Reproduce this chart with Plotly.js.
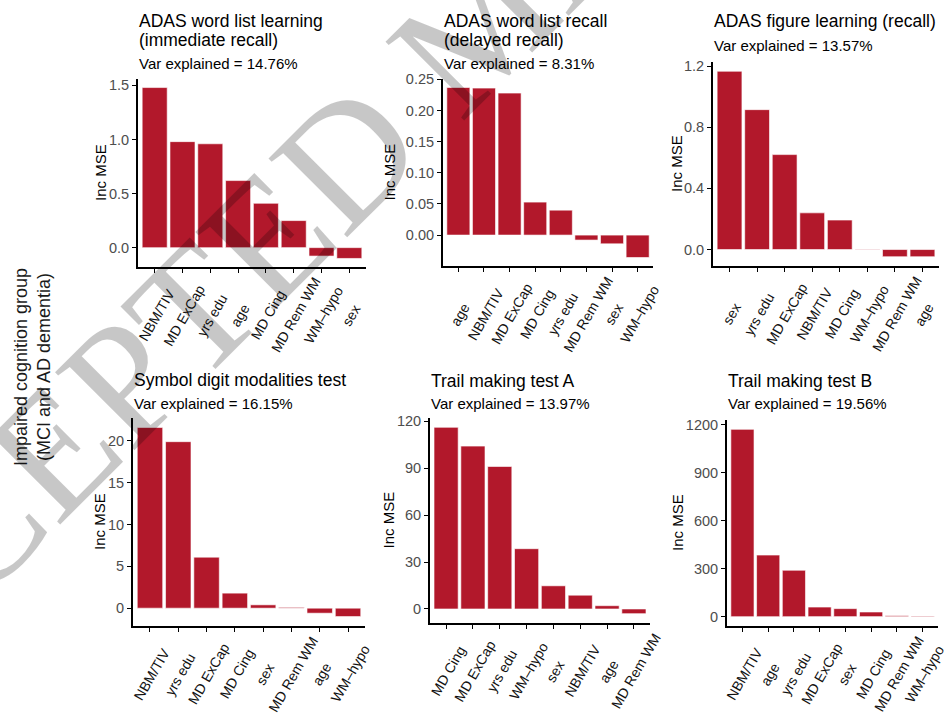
<!DOCTYPE html>
<html>
<head>
<meta charset="utf-8">
<script src="https://cdn.plot.ly/plotly-3.0.1.min.js"></script>
<style>
  html, body { margin: 0; padding: 0; background: #ffffff; }
  #chart { width: 947px; height: 717px; }
</style>
</head>
<body>
<div id="chart"></div>
<script>
// Random-forest variable importance (Inc MSE) per cognitive test,
// impaired cognition group (MCI and AD dementia)

const cats1 = ['NBM/TIV', 'MD ExCap', 'yrs edu', 'age', 'MD Cing', 'MD Rem WM', 'WM\u2013hypo', 'sex'];
const vals1 = [1.48, 0.98, 0.96, 0.62, 0.41, 0.25, -0.078, -0.10];

const cats2 = ['age', 'NBM/TIV', 'MD ExCap', 'MD Cing', 'yrs edu', 'MD Rem WM', 'sex', 'WM\u2013hypo'];
const vals2 = [0.237, 0.236, 0.228, 0.053, 0.040, -0.008, -0.014, -0.036];

const cats3 = ['sex', 'yrs edu', 'MD ExCap', 'NBM/TIV', 'MD Cing', 'WM\u2013hypo', 'MD Rem WM', 'age'];
const vals3 = [1.166, 0.915, 0.621, 0.240, 0.193, 0.003, -0.047, -0.047];

const cats4 = ['NBM/TIV', 'yrs edu', 'MD ExCap', 'MD Cing', 'sex', 'MD Rem WM', 'age', 'WM\u2013hypo'];
const vals4 = [21.6, 19.9, 6.1, 1.8, 0.4, 0.1, -0.6, -1.0];

const cats5 = ['MD Cing', 'MD ExCap', 'yrs edu', 'WM\u2013hypo', 'sex', 'NBM/TIV', 'age', 'MD Rem WM'];
const vals5 = [116, 104, 91, 38.5, 14.8, 8.8, 2.1, -3.0];

const cats6 = ['NBM/TIV', 'age', 'yrs edu', 'MD ExCap', 'sex', 'MD Cing', 'MD Rem WM', 'WM\u2013hypo'];
const vals6 = [1171, 385, 290, 60, 50, 29, 6, 4];

const yTicks1 = [0, 0.5, 1.0, 1.5];
const yTicks2 = [-0.05, 0, 0.05, 0.10, 0.15, 0.20, 0.25];
const yTicks3 = [0, 0.4, 0.8, 1.2];
const yTicks4 = [0, 5, 10, 15, 20];
const yTicks5 = [0, 30, 60, 90, 120];
const yTicks6 = [0, 300, 600, 900, 1200];

const titleLines = [
  ['ADAS word list learning', '(immediate recall)'],
  ['ADAS word list recall', '(delayed recall)'],
  ['ADAS figure learning (recall)'],
  ['Symbol digit modalities test'],
  ['Trail making test A'],
  ['Trail making test B']
];
const subtitles = [
  'Var explained = 14.76%',
  'Var explained = 8.31%',
  'Var explained = 13.57%',
  'Var explained = 16.15%',
  'Var explained = 13.97%',
  'Var explained = 19.56%'
];
const yAxisLabel = 'Inc MSE';
const groupLabel = ['Impaired cognition group', '(MCI and AD dementia)'];
const watermark = 'ACCEPTED MANUSCRIPT';

// ---- layout geometry (page pixels) ----
const W = 947, H = 717;
const px = p => p / W;
const py = p => 1 - p / H;

// panel boxes: left, right, top, bottom of the plotting area
const boxes = [
  {l: 138, r: 366, t: 79,  b: 267, ytitleX: 100, titleB: [33.4, 51.7], subB: 73.6},
  {l: 443, r: 653, t: 79,  b: 266, ytitleX: 389, titleB: [33.4, 51.7], subB: 73.6},
  {l: 713, r: 939, t: 62,  b: 266, ytitleX: 677, titleB: [33.0],       subB: 55.6},
  {l: 133, r: 365, t: 418, b: 626, ytitleX: 99,  titleB: [392.4],      subB: 413.5},
  {l: 430, r: 650, t: 418, b: 623, ytitleX: 388, titleB: [392.6],      subB: 413.5},
  {l: 727, r: 938, t: 420, b: 626, ytitleX: 677, titleB: [392.6],      subB: 413.5}
];
// distance from the x axis line to the centre of the slanted category labels
const X_LABEL_DROP = 48;

const allCats = [cats1, cats2, cats3, cats4, cats5, cats6];
const allVals = [vals1, vals2, vals3, vals4, vals5, vals6];
const allTicks = [yTicks1, yTicks2, yTicks3, yTicks4, yTicks5, yTicks6];
const tickFormats = ['.1f', '.2f', '.1f', 'd', 'd', 'd'];

const BAR_FILL = '#b2182b';
const FONT = 'Liberation Sans, Arial, Helvetica, sans-serif';

// ggplot-style continuous expansion: 5% of the span (bars always include 0)
function expandRange(v) {
  const lo = Math.min(0, ...v), hi = Math.max(0, ...v);
  const pad = (hi - lo) * 0.05;
  return [lo - pad, hi + pad];
}

const data = [];
const layout = {
  width: W, height: H,
  margin: {l: 0, r: 0, t: 0, b: 0},
  paper_bgcolor: '#ffffff',
  plot_bgcolor: 'rgba(0,0,0,0)',
  showlegend: false,
  font: {family: FONT, color: '#000000'},
  annotations: []
};

for (let i = 0; i < 6; i++) {
  const n = i === 0 ? '' : String(i + 1);
  const bx = boxes[i];
  data.push({
    type: 'bar',
    x: allCats[i],
    y: allVals[i],
    xaxis: 'x' + n,
    yaxis: 'y' + n,
    width: 0.9,
    marker: {color: BAR_FILL, line: {color: '#ffffff', width: 0.6}},
    hoverinfo: 'x+y'
  });

  layout['xaxis' + n] = {
    domain: [px(bx.l), px(bx.r)],
    anchor: 'y' + n,
    type: 'category',
    categoryorder: 'array',
    categoryarray: allCats[i],
    range: [-0.6, allCats[i].length - 0.4],
    showline: true, linecolor: '#000000', linewidth: 2,
    showgrid: false, zeroline: false,
    ticks: 'outside', ticklen: 4, tickwidth: 1.4, tickcolor: '#000000',
    showticklabels: false,
    fixedrange: true
  };
  layout['yaxis' + n] = {
    domain: [py(bx.b), py(bx.t)],
    anchor: 'x' + n,
    range: expandRange(allVals[i]),
    tickmode: 'array',
    tickvals: allTicks[i],
    tickformat: tickFormats[i],
    showline: true, linecolor: '#000000', linewidth: 2,
    showgrid: false, zeroline: false,
    ticks: 'outside', ticklen: 4, tickwidth: 1.4, tickcolor: '#000000',
    tickfont: {family: FONT, size: 14.5, color: '#4d4d4d'},
    fixedrange: true
  };

  // slanted category labels, centred under their ticks
  allCats[i].forEach((c, k) => {
    layout.annotations.push({
      xref: 'x' + n, yref: 'paper',
      x: k, y: py(bx.b + X_LABEL_DROP),
      xanchor: 'center', yanchor: 'middle',
      xshift: 2,
      text: c, textangle: -60, showarrow: false,
      font: {family: FONT, size: 14, color: '#111111'}
    });
  });

  // panel title lines and subtitle, left-aligned with the y axis line
  titleLines[i].forEach((line, k) => {
    layout.annotations.push({
      xref: 'paper', yref: 'paper',
      x: px(bx.l - 1), y: py(bx.titleB[k]),
      xanchor: 'left', yanchor: 'bottom',
      text: line, showarrow: false,
      font: {family: FONT, size: 17.5, color: '#000000'}
    });
  });
  layout.annotations.push({
    xref: 'paper', yref: 'paper',
    x: px(bx.l - 1), y: py(bx.subB),
    xanchor: 'left', yanchor: 'bottom',
    text: subtitles[i], showarrow: false,
    font: {family: FONT, size: 15, color: '#000000'}
  });
  // y axis title
  layout.annotations.push({
    xref: 'paper', yref: 'paper',
    x: px(bx.ytitleX), y: py((bx.t + bx.b) / 2),
    xanchor: 'center', yanchor: 'middle',
    text: yAxisLabel, textangle: -90, showarrow: false,
    font: {family: FONT, size: 15, color: '#000000'}
  });
}

// shared group label on the far left
groupLabel.forEach((line, k) => {
  layout.annotations.push({
    xref: 'paper', yref: 'paper',
    x: px(k === 0 ? 21 : 44), y: py(367),
    xanchor: 'center', yanchor: 'middle',
    text: line, textangle: -90, showarrow: false,
    font: {family: FONT, size: 18, color: '#1a1a1a'}
  });
});

// diagonal manuscript stamp across the figure
layout.annotations.push({
  xref: 'paper', yref: 'paper',
  x: px(482), y: py(22),
  xanchor: 'center', yanchor: 'middle',
  text: watermark, textangle: -45, showarrow: false,
  font: {family: 'Liberation Serif, Times New Roman, serif', size: 170, color: 'rgba(0,0,0,0.22)'}
});

Plotly.newPlot('chart', data, layout, {displayModeBar: false, responsive: false});
</script>
</body>
</html>
